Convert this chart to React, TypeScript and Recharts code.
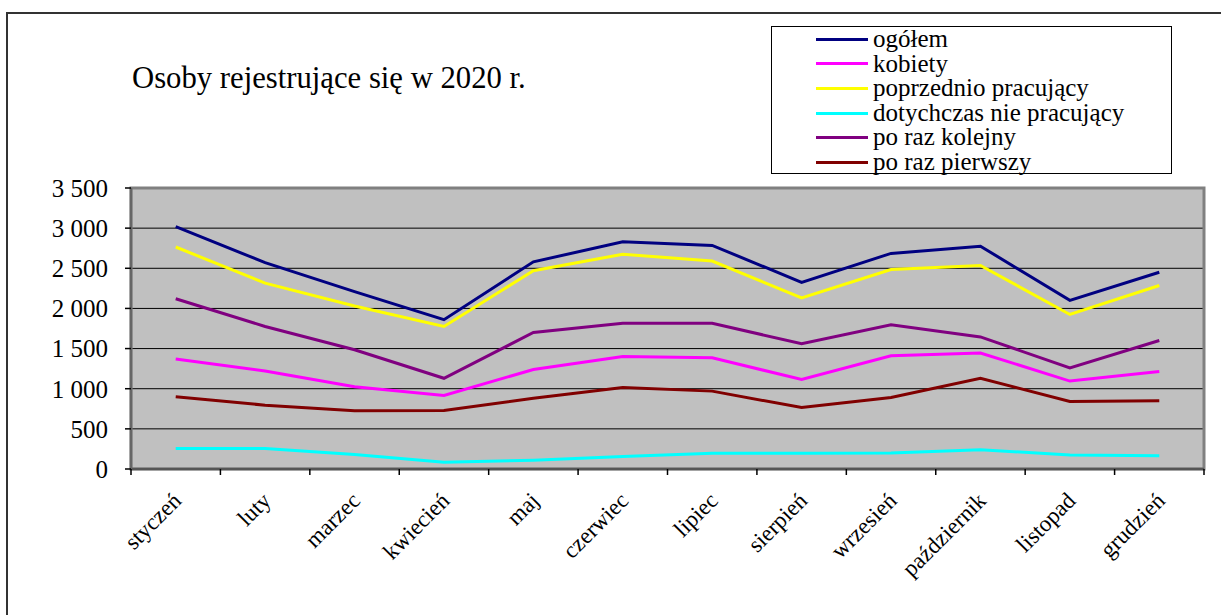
import React from 'react';
import { LineChart, Line, XAxis, YAxis, CartesianGrid, ReferenceArea, Legend } from 'recharts';

const MONTHS = [
    'styczeń', 'luty', 'marzec', 'kwiecień', 'maj', 'czerwiec',
    'lipiec', 'sierpień', 'wrzesień', 'październik', 'listopad', 'grudzień',
];

const OGOLEM = [3020, 2570, 2210, 1860, 2580, 2830, 2785, 2325, 2685, 2775, 2100, 2450];
const KOBIETY = [1370, 1220, 1025, 915, 1240, 1400, 1385, 1115, 1410, 1445, 1095, 1215];
const POPRZEDNIO = [2765, 2315, 2030, 1775, 2470, 2675, 2590, 2130, 2485, 2535, 1925, 2285];
const DOTYCHCZAS = [255, 255, 180, 85, 110, 155, 195, 195, 200, 240, 175, 165];
const KOLEJNY = [2120, 1775, 1485, 1130, 1700, 1815, 1815, 1560, 1795, 1645, 1260, 1600];
const PIERWSZY = [900, 795, 725, 730, 880, 1015, 970, 765, 890, 1130, 840, 850];

const Y_TICKS = [0, 500, 1000, 1500, 2000, 2500, 3000, 3500];

const SERIES = [
    { key: 'ogolem', name: 'ogółem', color: '#000080', values: OGOLEM },
    { key: 'kobiety', name: 'kobiety', color: '#FF00FF', values: KOBIETY },
    { key: 'poprzednio', name: 'poprzednio pracujący', color: '#FFFF00', values: POPRZEDNIO },
    { key: 'dotychczas', name: 'dotychczas nie pracujący', color: '#00FFFF', values: DOTYCHCZAS },
    { key: 'kolejny', name: 'po raz kolejny', color: '#800080', values: KOLEJNY },
    { key: 'pierwszy', name: 'po raz pierwszy', color: '#800000', values: PIERWSZY },
];

// category i sits in the middle of the band [i, i+1]
const chartData = MONTHS.map((month, i) => {
    const row: Record<string, any> = { month, pos: i + 0.5 };
    SERIES.forEach(s => { row[s.key] = s.values[i]; });
    return row;
});

// boundaries get a tick mark, band centres get the month label
const X_TICKS = MONTHS.flatMap((_, i) => [i, i + 0.5]).concat([MONTHS.length]);

const FONT = '"Liberation Serif", "Times New Roman", serif';

const formatThousands = (v: number) =>
    v >= 1000 ? `${Math.floor(v / 1000)} ${String(v % 1000).padStart(3, '0')}` : String(v);

const MonthTick = ({ x, y, payload }: any) => {
    const v = payload.value;
    if (Number.isInteger(v)) {
        return <line x1={x} x2={x} y1={y - 6} y2={y} stroke="#000" strokeWidth={1.5} />;
    }
    const lx = x + 7;
    const ly = y + 27;
    return (
        <text
            x={lx}
            y={ly}
            transform={`rotate(-45 ${lx} ${ly})`}
            textAnchor="end"
            fontSize={23}
            fontFamily={FONT}
            fill="#000"
        >
            {MONTHS[Math.floor(v)]}
        </text>
    );
};

const LegendBox = () => (
    <div
        style={{
            width: 401,
            height: 148,
            boxSizing: 'border-box',
            border: '1px solid #000',
            background: '#fff',
            fontFamily: FONT,
            fontSize: 25,
            color: '#000',
        }}
    >
        {SERIES.map(s => (
            <div key={s.key} style={{ display: 'flex', alignItems: 'center', height: 24.6, lineHeight: '24.6px', whiteSpace: 'nowrap' }}>
                <span style={{ display: 'inline-block', width: 52, height: 3, background: s.color, marginLeft: 44, marginRight: 5 }} />
                <span>{s.name}</span>
            </div>
        ))}
    </div>
);

export default function App() {
    return (
        <div style={{ position: 'absolute', left: 0, top: 0, width: 1221, height: 615, overflow: 'hidden', background: '#fff' }}>
            <div style={{ position: 'absolute', left: 6, top: 12, width: 1400, height: 800, border: '2px solid #333' }} />
            <div style={{ position: 'absolute', left: 132, top: 63, fontFamily: FONT, fontSize: 30.7, lineHeight: '30px', whiteSpace: 'nowrap', color: '#000' }}>
                Osoby rejestrujące się w 2020 r.
            </div>
            <div style={{ position: 'absolute', left: 0, top: 0 }}>
                <LineChart
                    width={1221}
                    height={615}
                    data={chartData}
                    margin={{ top: 188, right: 17, bottom: 0, left: 51 }}
                >
                    <CartesianGrid vertical={false} stroke="#000" strokeWidth={1} fill="#c0c0c0" />
                    <ReferenceArea x1={0} x2={12} y1={0} y2={3500} fill="none" stroke="#808080" strokeWidth={3} ifOverflow="visible" />
                    <XAxis
                        dataKey="pos"
                        type="number"
                        domain={[0, 12]}
                        ticks={X_TICKS}
                        interval={0}
                        tick={<MonthTick />}
                        tickLine={false}
                        tickSize={6}
                        tickMargin={0}
                        height={146}
                        axisLine={{ stroke: '#555', strokeWidth: 2.5 }}
                    />
                    <YAxis
                        domain={[0, 3500]}
                        ticks={Y_TICKS}
                        interval={0}
                        width={80}
                        tickSize={6}
                        tickMargin={17}
                        tickFormatter={formatThousands}
                        tick={{ fontSize: 25, fill: '#000', fontFamily: FONT }}
                        tickLine={{ stroke: '#000', strokeWidth: 1.5 }}
                        axisLine={{ stroke: '#666', strokeWidth: 2.5 }}
                    />
                    <Legend
                        layout="vertical"
                        align="center"
                        verticalAlign="middle"
                        content={<LegendBox />}
                        wrapperStyle={{ left: 771, top: 26, width: 401, height: 148 }}
                    />
                    {SERIES.map(s => (
                        <Line
                            key={s.key}
                            type="linear"
                            dataKey={s.key}
                            name={s.name}
                            stroke={s.color}
                            strokeWidth={3}
                            dot={false}
                            isAnimationActive={false}
                        />
                    ))}
                </LineChart>
            </div>
        </div>
    );
}
